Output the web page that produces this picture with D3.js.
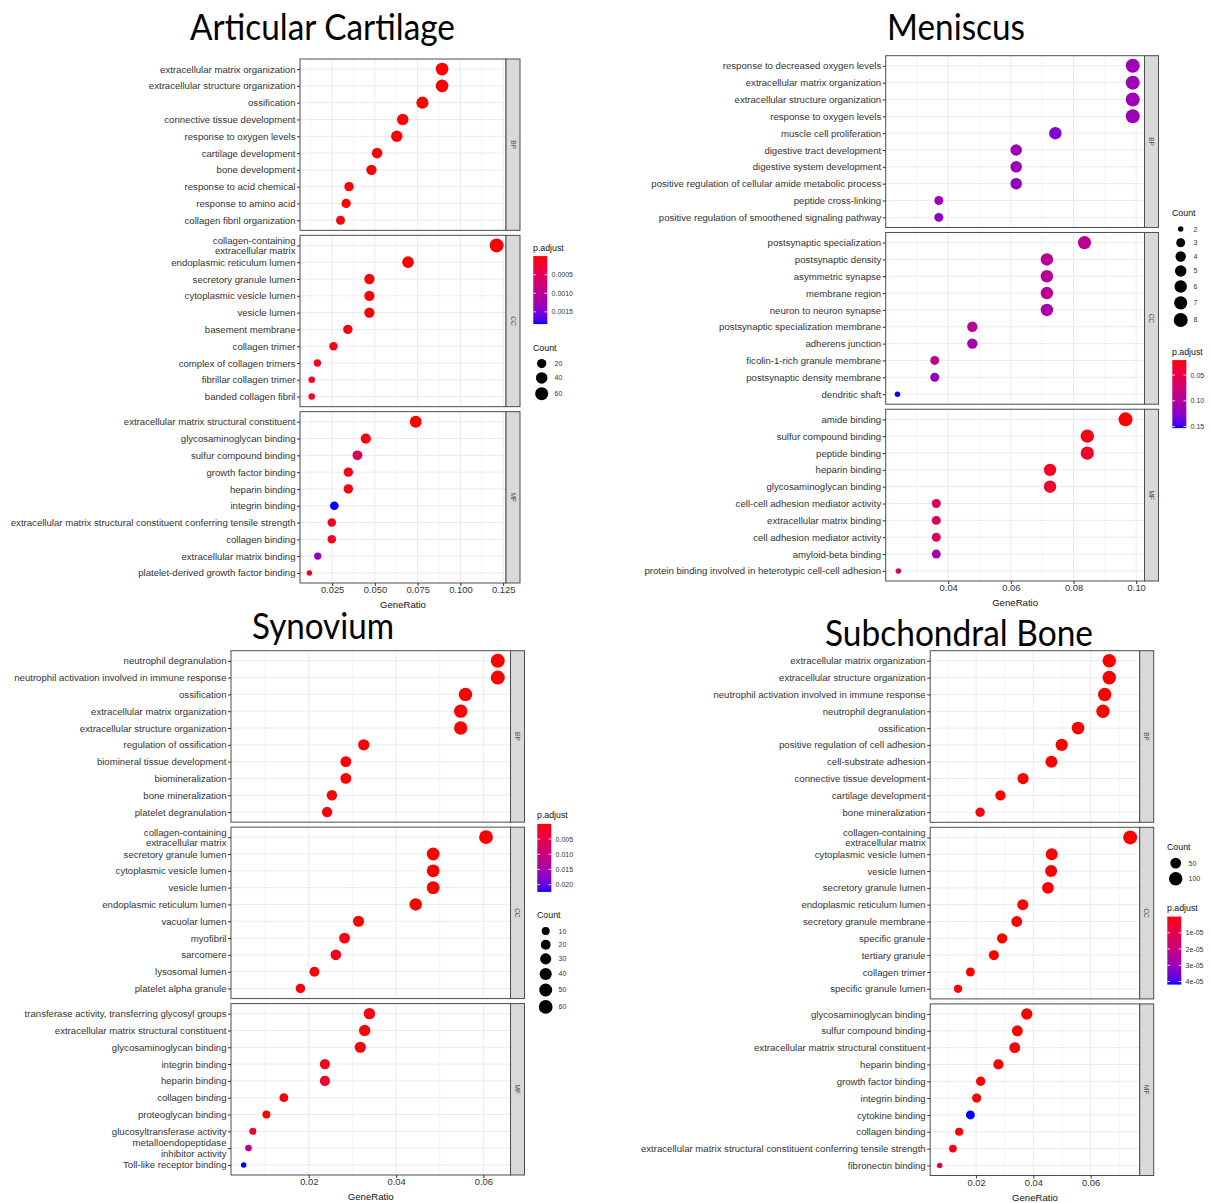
<!DOCTYPE html>
<html>
<head>
<meta charset="utf-8">
<script src="https://cdn.jsdelivr.net/npm/d3@7"></script>
<style>
  body { margin: 0; background: #ffffff; }
  svg text { font-family: 'Liberation Sans', Arial, Helvetica, sans-serif; }
</style>
</head>
<body>
<svg id="fig" width="1213" height="1203"></svg>
<script>
// ================= Articular Cartilage =================
const cartBPTerms = ["extracellular matrix organization", "extracellular structure organization", "ossification",
  "connective tissue development", "response to oxygen levels", "cartilage development", "bone development",
  "response to acid chemical", "response to amino acid", "collagen fibril organization"];
const cartBPRatio = [0.0893, 0.0893, 0.0778, 0.0663, 0.0628, 0.0513, 0.0480, 0.0349, 0.0332, 0.0299];
const cartBPCount = [54, 54, 47, 40, 38, 31, 29, 21, 20, 18];
const cartBPPadj = [2e-9, 2e-9, 3e-8, 1e-7, 4e-7, 6e-6, 1.5e-5, 2.4e-5, 3e-5, 5e-5];

const cartCCTerms = ["collagen-containing\nextracellular matrix", "endoplasmic reticulum lumen", "secretory granule lumen",
  "cytoplasmic vesicle lumen", "vesicle lumen", "basement membrane", "collagen trimer", "complex of collagen trimers",
  "fibrillar collagen trimer", "banded collagen fibril"];
const cartCCRatio = [0.1212, 0.0694, 0.0468, 0.0468, 0.0468, 0.0342, 0.0258, 0.0164, 0.0131, 0.0131];
const cartCCCount = [73, 42, 28, 28, 28, 21, 15, 10, 8, 8];
const cartCCPadj = [1e-12, 3e-6, 2e-5, 2e-5, 2e-5, 4e-5, 6e-5, 8e-5, 9e-5, 9e-5];

const cartMFTerms = ["extracellular matrix structural constituent", "glycosaminoglycan binding", "sulfur compound binding",
  "growth factor binding", "heparin binding", "integrin binding",
  "extracellular matrix structural constituent conferring tensile strength", "collagen binding",
  "extracellular matrix binding", "platelet-derived growth factor binding"];
const cartMFRatio = [0.0739, 0.0447, 0.0398, 0.0345, 0.0345, 0.0263, 0.0248, 0.0248, 0.0166, 0.0117];
const cartMFCount = [44, 27, 24, 21, 21, 16, 15, 15, 10, 7];
const cartMFPadj = [5e-9, 2e-5, 0.00055, 8e-5, 8e-5, 0.00183, 1e-4, 1e-4, 0.00137, 1.5e-4];

const cartXTicks = ["0.025", "0.050", "0.075", "0.100", "0.125"];
const cartSizeBreaks = [20, 40, 60];
const cartColorTicks = ["0.0005", "0.0010", "0.0015"];

// ================= Meniscus =================
const menBPTerms = ["response to decreased oxygen levels", "extracellular matrix organization",
  "extracellular structure organization", "response to oxygen levels", "muscle cell proliferation",
  "digestive tract development", "digestive system development",
  "positive regulation of cellular amide metabolic process", "peptide cross-linking",
  "positive regulation of smoothened signaling pathway"];
const menBPRatio = [0.0989, 0.0989, 0.0989, 0.0989, 0.0742, 0.0617, 0.0617, 0.0617, 0.0370, 0.0370];
const menBPCount = [8, 8, 8, 8, 6, 5, 5, 5, 3, 3];
const menBPPadj = [0.113, 0.113, 0.113, 0.113, 0.127, 0.113, 0.113, 0.121, 0.113, 0.120];

const menCCTerms = ["postsynaptic specialization", "postsynaptic density", "asymmetric synapse", "membrane region",
  "neuron to neuron synapse", "postsynaptic specialization membrane", "adherens junction",
  "ficolin-1-rich granule membrane", "postsynaptic density membrane", "dendritic shaft"];
const menCCRatio = [0.0835, 0.0715, 0.0715, 0.0715, 0.0715, 0.0477, 0.0477, 0.0357, 0.0357, 0.0238];
const menCCCount = [7, 6, 6, 6, 6, 4, 4, 3, 3, 2];
const menCCPadj = [0.093, 0.093, 0.093, 0.093, 0.107, 0.093, 0.107, 0.090, 0.120, 0.153];

const menMFTerms = ["amide binding", "sulfur compound binding", "peptide binding", "heparin binding",
  "glycosaminoglycan binding", "cell-cell adhesion mediator activity", "extracellular matrix binding",
  "cell adhesion mediator activity", "amyloid-beta binding",
  "protein binding involved in heterotypic cell-cell adhesion"];
const menMFRatio = [0.0966, 0.0844, 0.0844, 0.0725, 0.0725, 0.0362, 0.0362, 0.0362, 0.0362, 0.0241];
const menMFCount = [8, 7, 7, 6, 6, 3, 3, 3, 3, 2];
const menMFPadj = [0.0208, 0.025, 0.034, 0.030, 0.034, 0.062, 0.062, 0.062, 0.107, 0.062];

const menXTicks = ["0.04", "0.06", "0.08", "0.10"];
const menSizeBreaks = [2, 3, 4, 5, 6, 7, 8];
const menColorTicks = ["0.05", "0.10", "0.15"];

// ================= Synovium =================
const synBPTerms = ["neutrophil degranulation", "neutrophil activation involved in immune response", "ossification",
  "extracellular matrix organization", "extracellular structure organization", "regulation of ossification",
  "biomineral tissue development", "biomineralization", "bone mineralization", "platelet degranulation"];
const synBPRatio = [0.0633, 0.0633, 0.0559, 0.0548, 0.0548, 0.0326, 0.0285, 0.0285, 0.0253, 0.0242];
const synBPCount = [63, 63, 55, 54, 54, 32, 28, 28, 25, 24];
const synBPPadj = [1e-10, 1e-10, 2e-8, 1e-8, 1e-8, 1e-5, 5e-5, 5e-5, 1e-4, 2e-4];

const synCCTerms = ["collagen-containing\nextracellular matrix", "secretory granule lumen", "cytoplasmic vesicle lumen",
  "vesicle lumen", "endoplasmic reticulum lumen", "vacuolar lumen", "myofibril", "sarcomere", "lysosomal lumen",
  "platelet alpha granule"];
const synCCRatio = [0.0606, 0.0485, 0.0485, 0.0485, 0.0445, 0.0314, 0.0282, 0.0262, 0.0213, 0.0181];
const synCCCount = [60, 48, 48, 48, 44, 31, 28, 26, 21, 18];
const synCCPadj = [1e-12, 1e-9, 1e-9, 1e-9, 1e-7, 1e-4, 6e-4, 8e-4, 2e-4, 3e-4];

const synMFTerms = ["transferase activity, transferring glycosyl groups", "extracellular matrix structural constituent",
  "glycosaminoglycan binding", "integrin binding", "heparin binding", "collagen binding", "proteoglycan binding",
  "glucosyltransferase activity", "metalloendopeptidase\ninhibitor activity", "Toll-like receptor binding"];
const synMFRatio = [0.0339, 0.0328, 0.0318, 0.0237, 0.0237, 0.0143, 0.0103, 0.0072, 0.0062, 0.0051];
const synMFCount = [33, 32, 31, 23, 23, 14, 10, 7, 6, 5];
const synMFPadj = [8e-4, 2e-4, 4e-4, 1.5e-3, 2.4e-3, 5e-4, 4e-4, 3.2e-3, 0.0123, 0.0224];

const synXTicks = ["0.02", "0.04", "0.06"];
const synSizeBreaks = [10, 20, 30, 40, 50, 60];
const synColorTicks = ["0.005", "0.010", "0.015", "0.020"];

// ================= Subchondral Bone =================
const subBPTerms = ["extracellular matrix organization", "extracellular structure organization",
  "neutrophil activation involved in immune response", "neutrophil degranulation", "ossification",
  "positive regulation of cell adhesion", "cell-substrate adhesion", "connective tissue development",
  "cartilage development", "bone mineralization"];
const subBPRatio = [0.0665, 0.0665, 0.0649, 0.0643, 0.0556, 0.0499, 0.0463, 0.0364, 0.0285, 0.0214];
const subBPCount = [100, 100, 97, 96, 83, 75, 69, 55, 43, 32];
const subBPPadj = [1e-15, 1e-15, 1e-13, 1e-13, 1e-12, 1e-10, 1e-9, 1e-8, 1e-7, 5e-7];

const subCCTerms = ["collagen-containing\nextracellular matrix", "cytoplasmic vesicle lumen", "vesicle lumen",
  "secretory granule lumen", "endoplasmic reticulum lumen", "secretory granule membrane", "specific granule",
  "tertiary granule", "collagen trimer", "specific granule lumen"];
const subCCRatio = [0.0738, 0.0464, 0.0462, 0.0451, 0.0363, 0.0342, 0.0291, 0.0262, 0.0180, 0.0137];
const subCCCount = [111, 70, 69, 68, 54, 51, 44, 39, 27, 21];
const subCCPadj = [1e-20, 1e-12, 1e-12, 1e-12, 1e-10, 1e-9, 1e-8, 1e-7, 3e-7, 6e-7];

const subMFTerms = ["glycosaminoglycan binding", "sulfur compound binding", "extracellular matrix structural constituent",
  "heparin binding", "growth factor binding", "integrin binding", "cytokine binding", "collagen binding",
  "extracellular matrix structural constituent conferring tensile strength", "fibronectin binding"];
const subMFRatio = [0.0377, 0.0344, 0.0335, 0.0278, 0.0216, 0.0202, 0.0180, 0.0141, 0.0119, 0.0073];
const subMFCount = [57, 52, 50, 42, 32, 30, 27, 21, 18, 11];
const subMFPadj = [1e-11, 1e-10, 1e-10, 1e-9, 1e-7, 2e-7, 4.19e-5, 4e-7, 1.5e-6, 1.25e-5];

const subXTicks = ["0.02", "0.04", "0.06"];
const subSizeBreaks = [50, 100];
const subColorTicks = ["1e-05", "2e-05", "3e-05", "4e-05"];

const ontologies = ["BP", "CC", "MF"];

// ---------------------------------------------------------------
const svg = d3.select("#fig");
const defs = svg.append("defs");
const TEXT_DARK = "#333333";

function facet(terms, ratio, count, padj) { return { terms, ratio, count, padj }; }

function drawChart(c, idx) {
  const g = svg.append("g");
  const ratios = c.facets.flatMap(f => f.ratio);
  const counts = c.facets.flatMap(f => f.count);
  const padjs = c.facets.flatMap(f => f.padj);

  // continuous x with the usual 5% expansion on either side
  const [rLo, rHi] = d3.extent(ratios);
  const ex = (rHi - rLo) * 0.05;
  const x = d3.scaleLinear().domain([rLo - ex, rHi + ex]).range([c.left, c.right]);

  // point diameter grows with sqrt of rescaled count
  const [cLo, cHi] = d3.extent(counts);
  const diam = d3.scaleLinear().domain([0, 1]).range([5.5, 14]);
  const radius = v => diam(Math.sqrt(Math.max(0, (v - cLo) / (cHi - cLo)))) / 2;

  const [pLo, pHi] = d3.extent(padjs);
  const color = d3.scaleLinear().domain([pLo, pHi]).range(["#ff0000", "#0000ff"]).interpolate(d3.interpolateLab);

  const majors = c.xTicks.map(Number);
  const step = majors[1] - majors[0];
  const minors = [];
  for (let v = majors[0] - step / 2; v <= x.domain()[1]; v += step) if (v >= x.domain()[0]) minors.push(v);

  const gap = 5;
  const fh = (c.bottom - c.top - 2 * gap) / 3;
  const stripW = 14;

  c.facets.forEach((f, i) => {
    const top = c.top + i * (fh + gap), bot = top + fh;
    const y = d3.scalePoint().domain(f.terms).range([top, bot]).padding(0.6);
    const pg = g.append("g");

    pg.append("rect").attr("x", c.left).attr("y", top).attr("width", c.right - c.left).attr("height", fh)
      .attr("fill", "#ffffff");

    pg.append("g").selectAll("line").data(minors).join("line")
      .attr("x1", d => x(d)).attr("x2", d => x(d)).attr("y1", top).attr("y2", bot)
      .attr("stroke", "#f4f4f4").attr("stroke-width", 1);
    pg.append("g").selectAll("line").data(majors.filter(v => v >= x.domain()[0] && v <= x.domain()[1])).join("line")
      .attr("x1", d => x(d)).attr("x2", d => x(d)).attr("y1", top).attr("y2", bot)
      .attr("stroke", "#ebebeb").attr("stroke-width", 1);
    pg.append("g").selectAll("line").data(f.terms).join("line")
      .attr("x1", c.left).attr("x2", c.right).attr("y1", d => y(d)).attr("y2", d => y(d))
      .attr("stroke", "#ebebeb").attr("stroke-width", 1);

    const rows = f.terms.map((t, j) => ({ term: t, ratio: f.ratio[j], count: f.count[j], padj: f.padj[j] }));
    pg.append("g").selectAll("circle").data(rows).join("circle")
      .attr("cx", d => x(d.ratio)).attr("cy", d => y(d.term)).attr("r", d => radius(d.count))
      .attr("fill", d => color(d.padj));

    pg.append("rect").attr("x", c.left).attr("y", top).attr("width", c.right - c.left).attr("height", fh)
      .attr("fill", "none").attr("stroke", "#4d4d4d").attr("stroke-width", 1);

    // facet strip on the right
    pg.append("rect").attr("x", c.right).attr("y", top).attr("width", stripW).attr("height", fh)
      .attr("fill", "#d9d9d9").attr("stroke", "#4d4d4d").attr("stroke-width", 1);
    pg.append("text")
      .attr("transform", `translate(${c.right + stripW / 2},${(top + bot) / 2}) rotate(90)`)
      .attr("text-anchor", "middle").attr("dy", "0.35em")
      .attr("font-size", 6.5).attr("fill", "#555").text(ontologies[i]);

    // term axis
    const ya = pg.append("g").attr("transform", `translate(${c.left},0)`)
      .call(d3.axisLeft(y).tickSize(3).tickPadding(1.5));
    ya.select(".domain").remove();
    ya.selectAll(".tick line").attr("stroke", "#333");
    ya.selectAll(".tick text").attr("font-size", 9.6).attr("fill", TEXT_DARK).attr("font-family", null)
      .each(function (d) {
        const lines = d.split("\n");
        if (lines.length > 1) {
          const t = d3.select(this);
          const tx = t.attr("x");
          t.text(null).attr("dy", null);
          lines.forEach((ln, k) => t.append("tspan").attr("x", tx).attr("dy", k === 0 ? "-0.23em" : "1.1em").text(ln));
        }
      });
  });

  // GeneRatio axis
  const xa = g.append("g").attr("transform", `translate(0,${c.bottom})`)
    .call(d3.axisBottom(x).tickValues(majors).tickSize(3).tickPadding(0.5).tickFormat((d, i) => c.xTicks[i]));
  xa.select(".domain").remove();
  xa.selectAll(".tick line").attr("stroke", "#333");
  xa.selectAll(".tick text").attr("font-size", 9.4).attr("fill", TEXT_DARK).attr("font-family", null);
  g.append("text").attr("x", (c.left + c.right) / 2).attr("y", c.bottom + 25.2).attr("text-anchor", "middle")
    .attr("font-size", 9.6).attr("fill", "#111").text("GeneRatio");

  // chart title
  g.append("text").attr("x", c.titleX).attr("y", c.titleY).attr("text-anchor", "middle")
    .style("font-family", "Lato, 'Open Sans', sans-serif").attr("font-size", 36).attr("fill", "#000")
    .attr("textLength", c.titleW).attr("lengthAdjust", "spacingAndGlyphs").text(c.title);

  // legends
  c.legends.forEach(L => {
    if (L.type === "color") {
      g.append("text").attr("x", c.legendX).attr("y", L.y).attr("font-size", 8.8).attr("fill", "#111").text("p.adjust");
      const barTop = L.y + 5.6, barH = 68, barW = 14, bx = c.legendX + 0.3;
      const gid = "grad" + idx;
      const grad = defs.append("linearGradient").attr("id", gid).attr("x1", 0).attr("x2", 0).attr("y1", 0).attr("y2", 1);
      d3.range(0, 1.0001, 0.05).forEach(t => grad.append("stop").attr("offset", t)
        .attr("stop-color", color(pLo + t * (pHi - pLo))));
      g.append("rect").attr("x", bx).attr("y", barTop).attr("width", barW).attr("height", barH)
        .attr("fill", `url(#${gid})`);
      const cy = d3.scaleLinear().domain([pLo, pHi]).range([barTop, barTop + barH]);
      const tv = c.colorTicks.map(Number);
      g.append("g").selectAll("line").data(tv.flatMap(v => [[v, bx, bx + 2.8], [v, bx + barW - 2.8, bx + barW]]))
        .join("line").attr("x1", d => d[1]).attr("x2", d => d[2]).attr("y1", d => cy(d[0])).attr("y2", d => cy(d[0]))
        .attr("stroke", "#ffffff").attr("stroke-width", 0.8);
      g.append("g").selectAll("text").data(tv).join("text")
        .attr("x", bx + barW + 4.3).attr("y", d => cy(d)).attr("dy", "0.35em")
        .attr("font-size", 7).attr("fill", TEXT_DARK).text((d, i) => c.colorTicks[i]);
    } else {
      g.append("text").attr("x", c.legendX).attr("y", L.y).attr("font-size", 8.8).attr("fill", "#111").text("Count");
      let yy = L.y + 6.2;
      const keys = c.sizeBreaks.map(v => {
        const d = 2 * radius(v);
        const h = Math.max(13.7, d + 3.5);
        const k = { v, cy: yy + h / 2, r: d / 2 };
        yy += h;
        return k;
      });
      g.append("g").selectAll("circle").data(keys).join("circle")
        .attr("cx", c.legendX + 8.7).attr("cy", d => d.cy).attr("r", d => d.r).attr("fill", "#000");
      g.append("g").selectAll("text").data(keys).join("text")
        .attr("x", c.legendX + 21.5).attr("y", d => d.cy).attr("dy", "0.35em")
        .attr("font-size", 7).attr("fill", TEXT_DARK).text(d => d.v);
    }
  });
}

const charts = [
  {
    title: "Articular Cartilage", titleX: 322.5, titleY: 39.5, titleW: 265,
    left: 300, right: 506, top: 59, bottom: 583,
    facets: [facet(cartBPTerms, cartBPRatio, cartBPCount, cartBPPadj),
             facet(cartCCTerms, cartCCRatio, cartCCCount, cartCCPadj),
             facet(cartMFTerms, cartMFRatio, cartMFCount, cartMFPadj)],
    xTicks: cartXTicks, sizeBreaks: cartSizeBreaks, colorTicks: cartColorTicks,
    legendX: 533, legends: [{ type: "color", y: 250.5 }, { type: "size", y: 350.5 }]
  },
  {
    title: "Meniscus", titleX: 956, titleY: 39.5, titleW: 138,
    left: 885.7, right: 1144.5, top: 55.7, bottom: 581,
    facets: [facet(menBPTerms, menBPRatio, menBPCount, menBPPadj),
             facet(menCCTerms, menCCRatio, menCCCount, menCCPadj),
             facet(menMFTerms, menMFRatio, menMFCount, menMFPadj)],
    xTicks: menXTicks, sizeBreaks: menSizeBreaks, colorTicks: menColorTicks,
    legendX: 1172, legends: [{ type: "size", y: 216 }, { type: "color", y: 354.5 }]
  },
  {
    title: "Synovium", titleX: 323, titleY: 639, titleW: 142,
    left: 231, right: 510.5, top: 650.7, bottom: 1175,
    facets: [facet(synBPTerms, synBPRatio, synBPCount, synBPPadj),
             facet(synCCTerms, synCCRatio, synCCCount, synCCPadj),
             facet(synMFTerms, synMFRatio, synMFCount, synMFPadj)],
    xTicks: synXTicks, sizeBreaks: synSizeBreaks, colorTicks: synColorTicks,
    legendX: 537, legends: [{ type: "color", y: 818.3 }, { type: "size", y: 918 }]
  },
  {
    title: "Subchondral Bone", titleX: 959, titleY: 646, titleW: 268,
    left: 930.2, right: 1139.7, top: 650.7, bottom: 1175.5,
    facets: [facet(subBPTerms, subBPRatio, subBPCount, subBPPadj),
             facet(subCCTerms, subCCRatio, subCCCount, subCCPadj),
             facet(subMFTerms, subMFRatio, subMFCount, subMFPadj)],
    xTicks: subXTicks, sizeBreaks: subSizeBreaks, colorTicks: subColorTicks,
    legendX: 1167, legends: [{ type: "size", y: 849.7 }, { type: "color", y: 911 }]
  }
];

charts.forEach((c, i) => drawChart(c, i));
</script>
</body>
</html>
